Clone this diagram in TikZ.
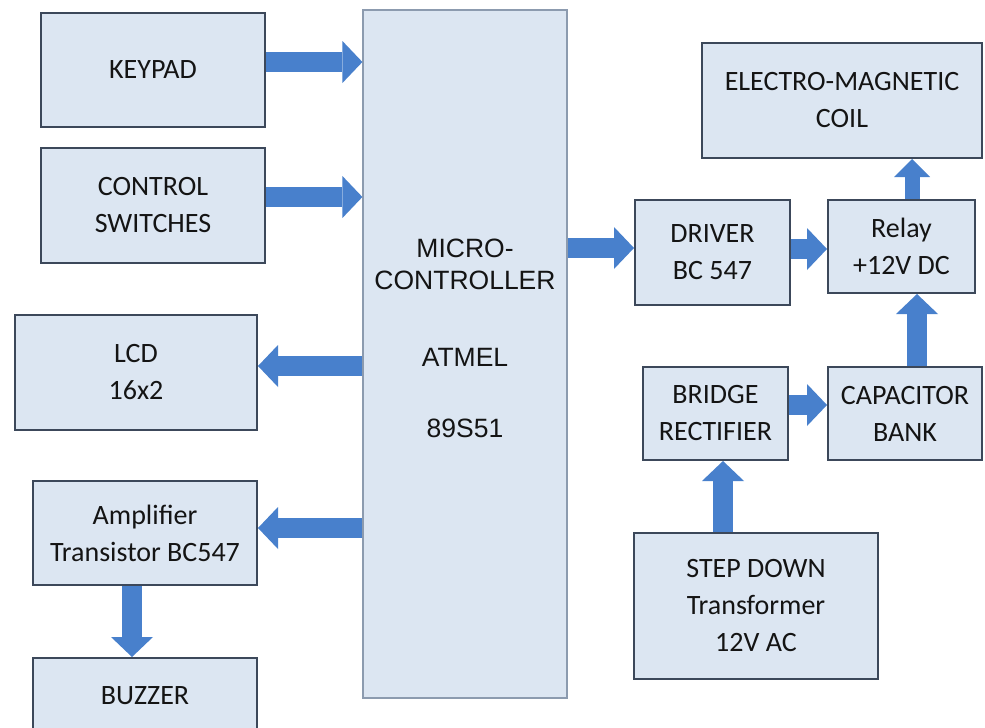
\documentclass[tikz,border=0pt]{standalone}
\usepackage{fontspec}
\setmainfont{Carlito}
\newfontfamily\arialf{Liberation Sans}
\usetikzlibrary{arrows.meta}
\definecolor{boxfill}{RGB}{220,230,242}
\definecolor{boxline}{RGB}{60,72,90}
\definecolor{mcline}{RGB}{140,155,175}
\definecolor{arrowblue}{RGB}{72,128,204}
\definecolor{txt}{RGB}{20,20,20}
\begin{document}
\begin{tikzpicture}[x=1pt,y=-1pt,
  blk/.style={draw=boxline, line width=2pt, fill=boxfill, inner sep=0pt, align=center, text=txt, font=\fontsize{28}{37}\selectfont},
  mctext/.style={inner sep=0pt, text=txt, font=\arialf\fontsize{26.5}{30}\selectfont},
  barrow/.style={draw=arrowblue, line width=20pt, -{Triangle[length=20pt,width=42pt,line width=0pt]}},
  sarrow/.style={draw=arrowblue, line width=15pt, -{Triangle[length=18pt,width=36pt,line width=0pt]}}]
\fill[white] (0,0) rectangle (985,728);
\useasboundingbox (0,0) rectangle (985,728);

% left column
\node[blk, minimum width=224pt, minimum height=114pt] (keypad) at (153,70) {KEYPAD};
\node[blk, minimum width=224pt, minimum height=115pt] (switches) at (153,205.5) {CONTROL\\SWITCHES};
\node[blk, minimum width=242pt, minimum height=115pt] (lcd) at (136,372.5) {LCD\\16x2};
\node[blk, minimum width=224pt, minimum height=104pt] (amp) at (145,533) {Amplifier\\Transistor BC547};
\node[blk, minimum width=224pt, minimum height=76pt] (buzzer) at (145,696) {BUZZER};

% microcontroller
\node[draw=mcline, line width=1.2pt, fill=boxfill, inner sep=0pt, minimum width=204pt, minimum height=688pt] (mc) at (465,354) {};
\node[mctext] (mc1) at (465,248) {MICRO-};
\node[mctext] (mc2) at (465,280) {CONTROLLER};
\node[mctext] (mc3) at (465,357) {ATMEL};
\node[mctext] (mc4) at (465,428) {89S51};

% right part
\node[blk, minimum width=280pt, minimum height=115pt] (coil) at (842,100.5) {ELECTRO-MAGNETIC\\COIL};
\node[blk, minimum width=155pt, minimum height=105pt] (driver) at (712.5,252.5) {DRIVER\\BC 547};
\node[blk, minimum width=147pt, minimum height=93pt] (relay) at (901.5,246.5) {Relay\\+12V DC};
\node[blk, minimum width=145pt, minimum height=93pt] (bridge) at (715.5,413.5) {BRIDGE\\RECTIFIER};
\node[blk, minimum width=154pt, minimum height=93pt] (cap) at (905,413.5) {CAPACITOR\\BANK};
\node[blk, minimum width=244pt, minimum height=146pt] (step) at (756,606) {STEP DOWN\\Transformer\\12V AC};

% arrows
\draw[barrow] (keypad.east |- 0,62) -- (mc.west |- 0,62);
\draw[barrow] (switches.east |- 0,197) -- (mc.west |- 0,197);
\draw[barrow] (mc.west |- 0,366) -- (lcd.east |- 0,366);
\draw[barrow] (mc.west |- 0,528) -- (amp.east |- 0,528);
\draw[barrow] (amp.south -| 132,0) -- (buzzer.north -| 132,0);
\draw[barrow] (mc.east |- 0,248) -- (driver.west |- 0,248);
\draw[barrow] (driver.east |- 0,249) -- (relay.west |- 0,249);
\draw[sarrow] (relay.north -| 912,0) -- (coil.south -| 912,0);
\draw[barrow] (cap.north -| 917,0) -- (relay.south -| 917,0);
\draw[barrow] (bridge.east |- 0,405) -- (cap.west |- 0,405);
\draw[barrow] (step.north -| 723,0) -- (bridge.south -| 723,0);
\end{tikzpicture}
\end{document}
